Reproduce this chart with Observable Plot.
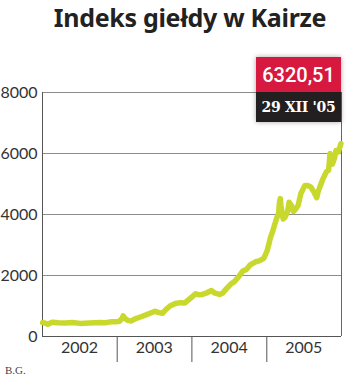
<!DOCTYPE html>
<html><head><meta charset="utf-8">
<script src="https://cdn.jsdelivr.net/npm/d3@7"></script>
<script src="https://cdn.jsdelivr.net/npm/@observablehq/plot@0.6"></script>
<style>
html,body{margin:0;padding:0;background:#fff;}
body{width:350px;height:378px;overflow:hidden;position:relative;}
#title{position:absolute;z-index:5;left:0;top:0px;width:350px;box-sizing:border-box;padding-left:30px;text-align:center;font-family:"Noto Sans","Open Sans",sans-serif;font-weight:700;font-size:25px;line-height:35px;color:#222;letter-spacing:-0.3px;white-space:nowrap;}
#chart{position:absolute;z-index:1;left:0;top:30px;}
#callout{position:absolute;z-index:3;left:256px;top:57px;width:85px;box-shadow:0 0 5px rgba(0,0,0,0.35);}
#cv{background:#d7193f;color:#fff;height:35px;line-height:36px;text-align:center;font-family:Roboto,sans-serif;font-weight:500;font-size:20px;}
#cd{background:#231f20;color:#fff;height:30px;line-height:30px;text-align:center;font-family:"DejaVu Serif",serif;font-weight:700;font-size:14px;letter-spacing:-0.3px;}
#credit{position:absolute;z-index:3;left:5px;top:364px;font-family:"Liberation Serif","DejaVu Serif",serif;font-size:11px;color:#444;}
</style></head><body>
<div id="chart"></div>
<div id="title">Indeks giełdy w Kairze</div>
<div id="callout"><div id="cv"></div><div id="cd"></div></div>
<div id="credit">B.G.</div>
<script>
const dates = ["2002-01-02","2002-01-16","2002-01-27","2002-02-17","2002-03-18","2002-04-23","2002-05-27","2002-07-05","2002-08-15","2002-09-17","2002-10-12","2002-11-03","2002-11-29","2002-12-24",
"2003-01-12","2003-01-26","2003-01-30","2003-02-10","2003-02-25","2003-03-11","2003-03-29","2003-04-24","2003-05-19","2003-06-10","2003-07-05","2003-07-20","2003-08-11","2003-08-29","2003-09-16","2003-10-12","2003-11-06","2003-11-28","2003-12-24",
"2004-01-19","2004-02-03","2004-02-21","2004-03-10","2004-04-05","2004-04-23","2004-05-15","2004-05-30","2004-06-17","2004-07-09","2004-07-27","2004-08-15","2004-09-06","2004-09-24","2004-10-12","2004-11-07","2004-11-25","2004-12-17",
"2005-01-02","2005-01-12","2005-01-19","2005-01-30","2005-02-07","2005-02-17","2005-02-28","2005-03-04","2005-03-08","2005-03-11","2005-03-22","2005-03-30","2005-04-13","2005-04-20","2005-05-01","2005-05-12","2005-05-19","2005-06-03","2005-06-17","2005-07-06","2005-07-20","2005-08-04","2005-08-18","2005-09-02","2005-09-09","2005-09-20","2005-10-01","2005-10-12","2005-10-19","2005-10-30","2005-11-06","2005-11-17","2005-11-28","2005-12-05","2005-12-16","2005-12-26","2005-12-29"];
const values = [460,430,400,470,450,440,460,430,440,450,460,450,480,480,
500,600,680,580,520,510,580,640,700,760,830,790,760,900,1000,1080,1110,1100,1250,
1400,1370,1380,1420,1510,1420,1380,1420,1560,1720,1800,1950,2150,2200,2350,2450,2480,2560,
2800,3050,3250,3450,3640,3850,4050,4400,4520,4300,3850,3900,4100,4400,4300,4100,4150,4300,4700,4950,4950,4900,4750,4550,4750,4950,5150,5300,5400,5450,6000,5650,5850,6100,6050,6250,6320.51];
const yTicks = [0,2000,4000,6000,8000];
const yearLabels = ["2002","2003","2004","2005"];
const yearBounds = ["2003-01-01","2004-01-01","2005-01-01"];
const xDomain = ["2002-01-01","2006-01-01"];
const lastLabel = "29 XII '05";

const data = dates.map((d,i)=>({date:new Date(d), value:values[i]}));
const x0 = new Date(xDomain[0]), x1 = new Date(xDomain[1]);

const chart = Plot.plot({
  width:350, height:348,
  marginTop:62, marginBottom:42, marginLeft:42, marginRight:9,
  style:{fontFamily:"Lato, 'Open Sans', sans-serif", fontSize:"16px", color:"#333", background:"transparent", overflow:"visible"},
  x:{type:"utc", domain:[x0,x1]},
  y:{domain:[0,8000]},
  marks:[
    Plot.ruleY(yTicks.slice(1), {stroke:"#8c8c8c", strokeWidth:1.2}),
    Plot.axisY({ticks:yTicks, tickSize:0, tickPadding:5, label:null, fontSize:16, tickFormat:d=>String(d)}),
    Plot.axisX({ticks:yearBounds.map(d=>new Date(d)), tickSize:26, tickFormat:()=>"", label:null, stroke:"#555"}),
    Plot.text(yearLabels, {x:d=>new Date(d+"-07-01"), text:d=>d, frameAnchor:"bottom", dy:16, fontSize:16, fill:"#333"}),
    Plot.ruleX([x0], {stroke:"#555"}),
    Plot.ruleX([x1], {stroke:"#666"}),
    Plot.ruleY([0], {stroke:"#555"}),
    Plot.line(data, {x:"date", y:"value", stroke:"#c8d82c", strokeWidth:5.5, strokeLinejoin:"round", strokeLinecap:"round"})
  ]
});
document.getElementById("chart").appendChild(chart);
const last = values[values.length-1];
document.getElementById("cv").textContent = last.toFixed(2).replace(".", ",");
document.getElementById("cd").textContent = lastLabel;
</script>
</body></html>
